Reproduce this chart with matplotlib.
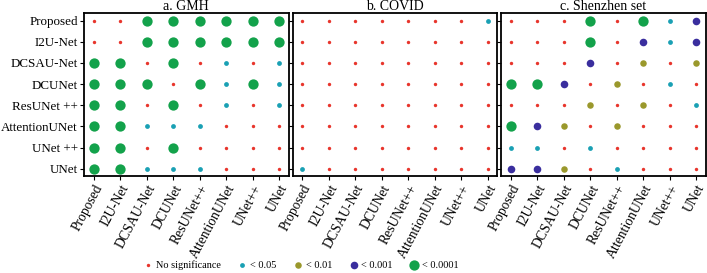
import numpy as np
import matplotlib
matplotlib.use("Agg")
import matplotlib.pyplot as plt
from matplotlib.lines import Line2D

plt.rcParams["font.family"] = ["Liberation Serif", "DejaVu Serif"]

# ── Data ──────────────────────────────────────────────────────────────────────
models = ["Proposed", "I2U-Net", "DCSAU-Net", "DCUNet",
          "ResUNet++", "AttentionUNet", "UNet++", "UNet"]
row_labels = ["Proposed", "I2U-Net", "DCSAU-Net", "DCUNet",
              "ResUNet ++", "AttentionUNet", "UNet ++", "UNet"]
panel_titles = ["a. GMH", "b. COVID", "c. Shenzhen set"]

# significance level: 0 none, 1 <0.05, 2 <0.01, 3 <0.001, 4 <0.0001
gmh = [
    [0, 0, 4, 4, 4, 4, 4, 4],
    [0, 0, 4, 4, 4, 4, 4, 4],
    [4, 4, 0, 4, 0, 1, 0, 1],
    [4, 4, 4, 0, 4, 1, 4, 1],
    [4, 4, 0, 4, 0, 1, 0, 1],
    [4, 4, 1, 1, 1, 0, 0, 0],
    [4, 4, 0, 4, 0, 0, 0, 0],
    [4, 4, 1, 1, 1, 0, 0, 0],
]
covid = [
    [0, 0, 0, 0, 0, 0, 0, 1],
    [0, 0, 0, 0, 0, 0, 0, 0],
    [0, 0, 0, 0, 0, 0, 0, 0],
    [0, 0, 0, 0, 0, 0, 0, 0],
    [0, 0, 0, 0, 0, 0, 0, 0],
    [0, 0, 0, 0, 0, 0, 0, 0],
    [0, 0, 0, 0, 0, 0, 0, 0],
    [1, 0, 0, 0, 0, 0, 0, 0],
]
shenzhen = [
    [0, 0, 0, 4, 0, 4, 1, 3],
    [0, 0, 0, 4, 0, 3, 1, 3],
    [0, 0, 0, 3, 0, 2, 0, 2],
    [4, 4, 3, 0, 2, 0, 1, 0],
    [0, 0, 0, 2, 0, 2, 0, 1],
    [4, 3, 2, 0, 2, 0, 0, 0],
    [1, 1, 0, 1, 0, 0, 0, 0],
    [3, 3, 2, 0, 1, 0, 0, 0],
]
level_labels = ["No significance", "< 0.05", "< 0.01", "< 0.001", "< 0.0001"]

# ── Style ─────────────────────────────────────────────────────────────────────
LEVEL_COLORS = ["#e8352c", "#1aa0b4", "#9a982c", "#3a2e9e", "#13a24b"]
LEVEL_SIZES = [6, 12, 22, 30, 55]

fig, axes = plt.subplots(1, 3, figsize=(7.07, 2.73), dpi=100, sharey=True)
fig.subplots_adjust(left=0.119, right=0.998, top=0.952, bottom=0.355, wspace=0.02)

n = len(models)
for ax, title, mat in zip(axes, panel_titles, [gmh, covid, shenzhen]):
    mat = np.array(mat)
    ys, xs = np.meshgrid(np.arange(n), np.arange(n), indexing="ij")
    for lvl in range(5):
        m = mat == lvl
        ax.scatter(xs[m], ys[m], s=LEVEL_SIZES[lvl], c=LEVEL_COLORS[lvl],
                   linewidths=0, zorder=3)
    ax.set_xlim(-0.36, n - 1 + 0.36)
    ax.set_ylim(n - 1 + 0.35, -0.35)
    ax.set_xticks(range(n))
    ax.set_xticklabels(models, rotation=62, ha="right", rotation_mode="anchor",
                       fontsize=9.8)
    ax.set_yticks(range(n))
    ax.set_title(title, fontsize=10, pad=2)
    ax.tick_params(length=3, width=0.8, pad=1.5)
    for sp in ax.spines.values():
        sp.set_linewidth(1.3)

axes[0].set_yticklabels(row_labels, fontsize=9.4)

handles = [Line2D([], [], marker="o", linestyle="none", markersize=np.sqrt(s),
                  markerfacecolor=c, markeredgewidth=0)
           for s, c in zip(LEVEL_SIZES, LEVEL_COLORS)]
fig.legend(handles, level_labels, loc="center", bbox_to_anchor=(0.425, 0.028),
           ncol=5, frameon=False, fontsize=7.4, handletextpad=0.15,
           columnspacing=1.5, handlelength=1.2)

fig.savefig("out.png", dpi=100)
